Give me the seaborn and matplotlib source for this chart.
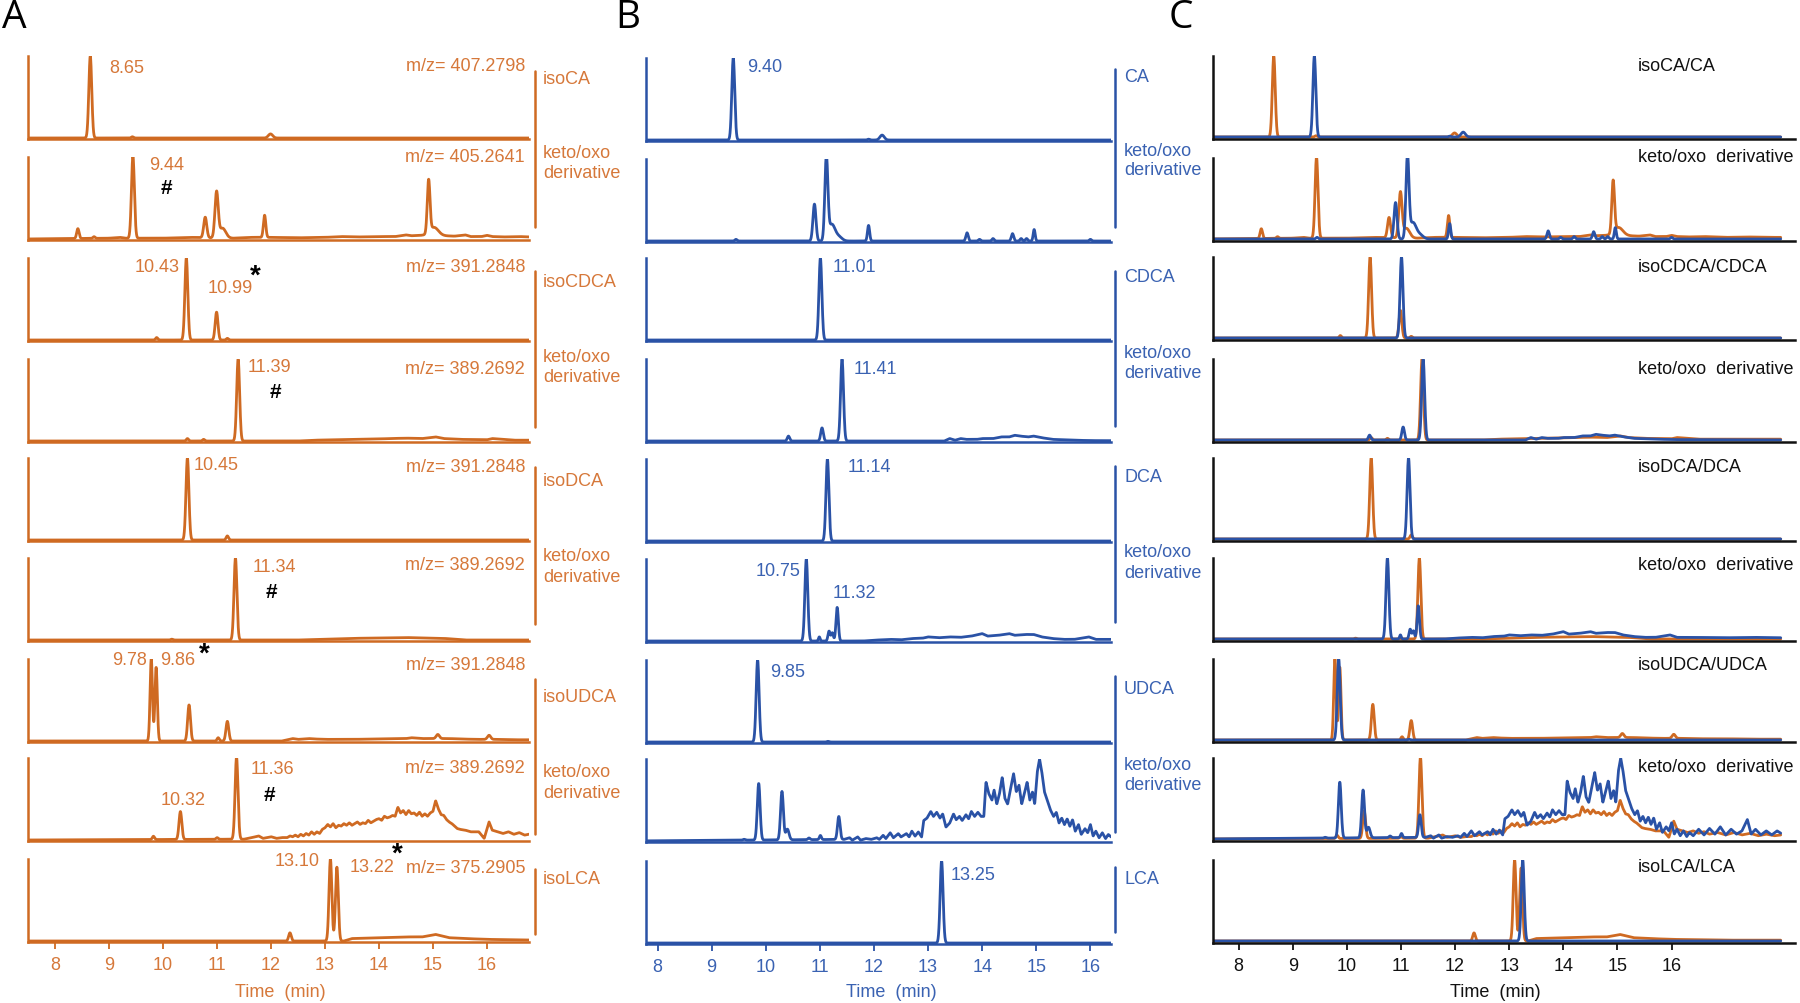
import numpy as np
import matplotlib
matplotlib.use("Agg")
import matplotlib.pyplot as plt
import seaborn as sns
from matplotlib.lines import Line2D

sns.set_theme(style="white")
plt.rcParams['font.family'] = ['Liberation Sans', 'DejaVu Sans']

# ---------------- data (retention time, relative height, peak width) ----------------
T = np.arange(7.4, 18.02, 0.004)

# orange traces (iso bile acids and their keto/oxo derivatives)
o1_peaks = [(8.65, 1.0, 0.027), (9.43, 0.015, 0.02), (11.99, 0.05, 0.04)]
o2_peaks = [(8.42, 0.12, 0.022), (8.72, 0.02, 0.02), (9.44, 1.0, 0.027), (10.78, 0.25, 0.028),
            (10.99, 0.55, 0.03), (11.10, 0.12, 0.06), (11.88, 0.27, 0.022),
            (14.92, 0.64, 0.025), (15.02, 0.10, 0.08)]
o2_bt = [7.4, 9.0, 9.2, 9.3, 10.0, 10.5, 11.3, 11.6, 12.0, 12.5, 13.0, 13.3, 13.6, 14.0, 14.3, 14.5,
         14.6, 14.8, 15.2, 15.4, 15.6, 15.7, 15.9, 16.0, 16.1, 16.3, 16.6, 17.0, 17.4, 17.8, 18.02]
o2_bv = [0, 0.01, 0.02, 0.01, 0.01, 0.02, 0.01, 0.02, 0.02, 0.015, 0.02, 0.03, 0.025, 0.03, 0.03, 0.05,
         0.04, 0.045, 0.04, 0.035, 0.05, 0.03, 0.03, 0.045, 0.03, 0.025, 0.03, 0.02, 0.025, 0.02, 0.02]
o3_peaks = [(9.88, 0.03, 0.02), (10.43, 1.0, 0.027), (10.99, 0.34, 0.026), (11.19, 0.02, 0.02)]
o4_peaks = [(10.45, 0.03, 0.02), (10.75, 0.02, 0.02), (11.39, 1.0, 0.027)]
o4_bt = [7.4, 12.5, 12.8, 13.2, 13.6, 14.0, 14.2, 14.5, 14.8, 15.05, 15.2, 15.5, 16.0, 16.1, 16.5, 17.0, 18.02]
o4_bv = [0, 0, 0.01, 0.015, 0.02, 0.025, 0.03, 0.035, 0.03, 0.05, 0.03, 0.02, 0.015, 0.03, 0.01, 0.01, 0.01]
o5_peaks = [(10.45, 1.0, 0.027), (11.19, 0.05, 0.022)]
o6_peaks = [(10.16, 0.01, 0.02), (11.34, 1.0, 0.027)]
o6_bt = [7.4, 12.5, 13.5, 14.5, 15.2, 15.6, 18.02]
o6_bv = [0, 0, 0.02, 0.03, 0.02, 0, 0]
o7_peaks = [(9.78, 1.0, 0.022), (9.87, 0.9, 0.022), (10.48, 0.44, 0.026), (11.02, 0.04, 0.02),
            (11.19, 0.24, 0.026), (15.09, 0.05, 0.03), (16.04, 0.05, 0.03)]
o7_bt = [7.4, 12.2, 12.4, 12.5, 12.7, 12.8, 13.0, 13.5, 14.0, 14.5, 14.6, 14.8, 15.3, 15.5, 15.8,
         16.2, 16.5, 17.0, 17.5, 18.02]
o7_bv = [0, 0, 0.03, 0.02, 0.03, 0.025, 0.02, 0.02, 0.025, 0.03, 0.04, 0.03, 0.03, 0.025, 0.02,
         0.02, 0.015, 0.015, 0.01, 0.01]
o8_peaks = [(9.82, 0.04, 0.02), (10.32, 0.34, 0.026), (11.0, 0.02, 0.02), (11.36, 1.0, 0.027)]
o8_bt = [7.4, 11.5, 11.65, 11.77, 11.85, 12.0, 12.1, 12.2, 12.3, 12.35, 12.4, 12.45, 12.5, 12.55,
         12.6, 12.65, 12.7, 12.75, 12.8, 12.85, 12.9, 12.95, 13.0, 13.05, 13.1, 13.15, 13.2, 13.25,
         13.3, 13.35, 13.4, 13.45, 13.5, 13.55, 13.6, 13.65, 13.7, 13.75, 13.8, 13.85, 13.9, 13.95,
         14.0, 14.05, 14.1, 14.15, 14.2, 14.25, 14.3, 14.35, 14.4, 14.45, 14.5, 14.55, 14.6, 14.65,
         14.7, 14.75, 14.8, 14.85, 14.9, 14.95, 15.0, 15.05, 15.1, 15.15, 15.2, 15.25, 15.3, 15.35,
         15.4, 15.45, 15.5, 15.6, 15.7, 15.85, 15.95, 16.04, 16.1, 16.2, 16.3, 16.4, 16.5, 16.6,
         16.7, 16.85, 17.0, 17.15, 17.3, 17.45, 17.6, 17.75, 17.9, 18.02]
o8_bv = [0, 0.01, 0.03, 0.05, 0.02, 0.04, 0.02, 0.03, 0.03, 0.05, 0.04, 0.06, 0.04, 0.07,
         0.05, 0.08, 0.06, 0.1, 0.07, 0.1, 0.08, 0.13, 0.15, 0.19, 0.16, 0.2, 0.15, 0.18,
         0.17, 0.2, 0.18, 0.21, 0.18, 0.2, 0.22, 0.19, 0.21, 0.2, 0.24, 0.21, 0.23, 0.25,
         0.26, 0.24, 0.29, 0.27, 0.28, 0.3, 0.29, 0.4, 0.33, 0.36, 0.31, 0.36, 0.32, 0.33,
         0.3, 0.34, 0.29, 0.32, 0.29, 0.33, 0.35, 0.48, 0.38, 0.31, 0.3, 0.25, 0.22, 0.2,
         0.17, 0.14, 0.13, 0.12, 0.1, 0.1, 0.02, 0.22, 0.12, 0.1, 0.08, 0.1, 0.07, 0.09,
         0.06, 0.08, 0.05, 0.08, 0.05, 0.07, 0.04, 0.06, 0.04, 0.05]
o9_peaks = [(12.35, 0.1, 0.024), (13.10, 1.0, 0.026), (13.22, 0.9, 0.026)]
o9_bt = [7.4, 13.35, 13.5, 14.0, 14.5, 14.8, 15.05, 15.3, 15.6, 16.0, 16.5, 17.0, 18.02]
o9_bv = [0, 0, 0.03, 0.04, 0.05, 0.05, 0.08, 0.04, 0.03, 0.02, 0.015, 0.01, 0.01]

# blue traces (reference bile acids and their keto/oxo derivatives)
b1_peaks = [(9.40, 1.0, 0.027), (11.9, 0.01, 0.02), (12.15, 0.06, 0.04)]
b2_peaks = [(9.45, 0.02, 0.02), (10.90, 0.45, 0.028), (11.12, 1.0, 0.028), (11.22, 0.2, 0.06),
            (11.35, 0.05, 0.06), (11.90, 0.19, 0.02), (13.72, 0.1, 0.022), (13.95, 0.02, 0.02),
            (14.2, 0.03, 0.02), (14.56, 0.09, 0.022), (14.72, 0.03, 0.02), (14.82, 0.03, 0.02),
            (14.96, 0.14, 0.018), (16.0, 0.02, 0.02)]
b3_peaks = [(11.01, 1.0, 0.027)]
b4_peaks = [(10.42, 0.06, 0.022), (11.04, 0.16, 0.024), (11.41, 1.0, 0.027)]
b4_bt = [7.4, 13.3, 13.4, 13.5, 13.6, 13.7, 13.9, 14.0, 14.2, 14.35, 14.5, 14.6, 14.7, 14.85,
         14.95, 15.1, 15.3, 15.5, 15.7, 16.0, 18.02]
b4_bv = [0, 0, 0.03, 0.01, 0.03, 0.02, 0.02, 0.03, 0.03, 0.05, 0.05, 0.07, 0.06, 0.05,
         0.06, 0.04, 0.02, 0.015, 0.01, 0.005, 0]
b5_peaks = [(11.14, 1.0, 0.027)]
b6_peaks = [(10.75, 1.0, 0.027), (10.99, 0.05, 0.015), (11.17, 0.12, 0.02), (11.23, 0.1, 0.02),
            (11.32, 0.41, 0.022)]
b6_bt = [7.4, 11.8, 12.0, 12.3, 12.5, 12.7, 12.9, 13.0, 13.2, 13.4, 13.6, 13.8, 14.0, 14.1, 14.3,
         14.5, 14.6, 14.8, 14.95, 15.1, 15.3, 15.5, 15.7, 15.97, 16.1, 16.4, 17.0, 17.5, 18.02]
b6_bv = [0, 0, 0.01, 0.02, 0.015, 0.03, 0.035, 0.05, 0.04, 0.05, 0.045, 0.06, 0.09, 0.06, 0.07,
         0.09, 0.07, 0.08, 0.08, 0.05, 0.03, 0.02, 0.02, 0.05, 0.02, 0.02, 0.015, 0.02, 0.015]
b7_peaks = [(9.85, 1.0, 0.027), (11.15, 0.008, 0.02)]
b8_peaks = [(9.6, 0.01, 0.02), (9.87, 0.69, 0.026), (10.30, 0.59, 0.026), (10.40, 0.13, 0.03),
            (10.8, 0.02, 0.02), (11.01, 0.05, 0.018), (11.35, 0.28, 0.024)]
b8_bt = [7.4, 11.45, 11.55, 11.6, 11.7, 11.75, 11.85, 11.95, 12.05, 12.1, 12.17, 12.22, 12.3, 12.36,
         12.45, 12.5, 12.6, 12.65, 12.7, 12.76, 12.82, 12.88, 12.92, 12.98, 13.05, 13.1, 13.16, 13.22,
         13.27, 13.33, 13.4, 13.47, 13.52, 13.58, 13.63, 13.7, 13.75, 13.8, 13.86, 13.92, 13.98, 14.03,
         14.07, 14.12, 14.18, 14.22, 14.27, 14.32, 14.37, 14.42, 14.47, 14.53, 14.58, 14.63, 14.68,
         14.73, 14.78, 14.83, 14.88, 14.93, 14.97, 15.02, 15.06, 15.1, 15.15, 15.2, 15.26, 15.32,
         15.37, 15.42, 15.47, 15.52, 15.57, 15.62, 15.67, 15.72, 15.78, 15.83, 15.9, 15.95, 16.0,
         16.05, 16.1, 16.16, 16.22, 16.28, 16.33, 16.4, 16.5, 16.6, 16.7, 16.8, 16.9, 17.0, 17.1,
         17.2, 17.3, 17.4, 17.47, 17.55, 17.65, 17.75, 17.85, 17.95, 18.02]
b8_bv = [0, 0.02, 0.04, 0.01, 0.05, 0.01, 0.03, 0.02, 0.04, 0.02, 0.07, 0.03, 0.1, 0.04,
         0.09, 0.05, 0.09, 0.05, 0.12, 0.06, 0.11, 0.05, 0.25, 0.28, 0.36, 0.3, 0.35, 0.28,
         0.33, 0.17, 0.22, 0.33, 0.26, 0.3, 0.25, 0.32, 0.27, 0.36, 0.3, 0.35, 0.3, 0.3,
         0.72, 0.58, 0.5, 0.62, 0.45, 0.58, 0.78, 0.52, 0.45, 0.66, 0.82, 0.6, 0.68,
         0.45, 0.58, 0.72, 0.5, 0.6, 0.45, 0.85, 1.0, 0.85, 0.6, 0.5, 0.38, 0.3,
         0.35, 0.22, 0.28, 0.2, 0.27, 0.18, 0.26, 0.12, 0.2, 0.08, 0.15, 0.1, 0.2,
         0.06, 0.12, 0.04, 0.1, 0.03, 0.08, 0.04, 0.12, 0.05, 0.13, 0.06, 0.15, 0.05, 0.12,
         0.06, 0.1, 0.24, 0.06, 0.12, 0.05, 0.1, 0.05, 0.1, 0.07]
b9_peaks = [(13.25, 1.0, 0.027)]

# labels
mz_labels = ["m/z= 407.2798", "m/z= 405.2641", "m/z= 391.2848", "m/z= 389.2692", "m/z= 391.2848",
             "m/z= 389.2692", "m/z= 391.2848", "m/z= 389.2692", "m/z= 375.2905"]
iso_names = ["isoCA", "isoCDCA", "isoDCA", "isoUDCA", "isoLCA"]
ref_names = ["CA", "CDCA", "DCA", "UDCA", "LCA"]
pair_names = ["isoCA/CA", "keto/oxo  derivative", "isoCDCA/CDCA", "keto/oxo  derivative",
              "isoDCA/DCA", "keto/oxo  derivative", "isoUDCA/UDCA", "keto/oxo  derivative", "isoLCA/LCA"]
tick_vals = [8, 9, 10, 11, 12, 13, 14, 15, 16]

# ---------------- build traces ----------------
def trace(peaks, bt=None, bv=None):
    y = np.zeros_like(T)
    for c, h, s in peaks:
        y = y + h * np.exp(-0.5 * ((T - c) / s) ** 2)
    if bt is not None:
        y = y + np.interp(T, bt, bv)
    return y

orange = [trace(o1_peaks), trace(o2_peaks, o2_bt, o2_bv), trace(o3_peaks), trace(o4_peaks, o4_bt, o4_bv),
          trace(o5_peaks), trace(o6_peaks, o6_bt, o6_bv), trace(o7_peaks, o7_bt, o7_bv),
          trace(o8_peaks, o8_bt, o8_bv), trace(o9_peaks, o9_bt, o9_bv)]
blue = [trace(b1_peaks), trace(b2_peaks), trace(b3_peaks), trace(b4_peaks, b4_bt, b4_bv),
        trace(b5_peaks), trace(b6_peaks, b6_bt, b6_bv), trace(b7_peaks), trace(b8_peaks, b8_bt, b8_bv),
        trace(b9_peaks)]

# ---------------- figure ----------------
W, H = 1800, 1004
fig = plt.figure(figsize=(18, 10.04), dpi=100)
fig.patch.set_facecolor("white")

OR = "#CF6A22"
ORT = "#D6783A"
BL = "#2A52A6"
BLT = "#3A62B2"
FS = 13

def ftext(x, y, s, color, size=FS, ha="center", weight="normal", family=None):
    kw = {}
    if family is not None:
        kw["family"] = family
    fig.text(x / W, 1 - y / H, s, color=color, fontsize=size, ha=ha, va="center",
             fontweight=weight, **kw)

def vline(x, y0, y1, color):
    fig.add_artist(Line2D([x / W, x / W], [1 - y0 / H, 1 - y1 / H], transform=fig.transFigure,
                          color=color, lw=1.8))

def make_ax(left, right, base, xlim, spine_color, last, tick_color, ybot=-0.012):
    ax = fig.add_axes([left / W, 1 - base / H, (right - left) / W, 83 / H])
    ax.set_xlim(*xlim)
    ax.set_ylim(ybot, 1.0)
    ax.set_facecolor("none")
    for s in ["top", "right"]:
        ax.spines[s].set_visible(False)
    for s in ["left", "bottom"]:
        ax.spines[s].set_color(spine_color)
        ax.spines[s].set_linewidth(1.8)
    ax.set_yticks([])
    if last:
        ax.set_xticks(tick_vals)
        ax.set_xticklabels([str(v) for v in tick_vals])
        ax.tick_params(axis="x", direction="out", length=5, width=1.3, color=spine_color,
                       labelcolor=tick_color, labelsize=FS, pad=5, bottom=True)
    else:
        ax.set_xticks([])
    ax.grid(False)
    return ax

def draw(ax, y, color):
    sns.lineplot(x=T, y=y, ax=ax, color=color, linewidth=2.0, estimator=None, errorbar=None)
    ax.set_xlabel("")
    ax.set_ylabel("")

A_base = [140, 241, 342, 443, 542, 642, 743, 842, 943]
B_base = [142, 243, 342, 443, 543, 643, 744, 843, 945]
C_base = [140, 242, 341, 443, 542, 642, 743, 842, 944]

for i in range(9):
    last = i == 8
    axA = make_ax(27.7, 529, A_base[i], (7.49, 16.78), OR, last, ORT)
    draw(axA, orange[i], OR)
    axB = make_ax(645.6, 1111, B_base[i], (7.78, 16.38), BL, last, BLT)
    draw(axB, blue[i], BL)
    axC = make_ax(1212.6, 1795, C_base[i], (7.52, 18.28), "#111111", last, "#111111", ybot=-0.025)
    draw(axC, orange[i], OR)
    draw(axC, blue[i], BL)

# m/z labels (panel A)
mz_y = [67, 158, 268, 370, 468, 566, 666, 769, 869]
for s, y in zip(mz_labels, mz_y):
    ftext(525, y, s, ORT, ha="right")

# right-hand brackets and names, panels A and B
A_br = [(72, 228), (272, 428), (468, 625), (680, 835), (870, 935)]
B_br = [(70, 228), (272, 427), (467, 623), (677, 833), (868, 933)]
A_name_y = [79, 283, 482, 697, 880]
B_name_y = [77, 278, 478, 690, 880]
A_keto_y = [(154, 174), (358, 378), (557, 577), (773, 794)]
B_keto_y = [(151, 171), (354, 374), (553, 573), (766, 786)]
for k in range(5):
    vline(534.6, A_br[k][0], A_br[k][1], OR)
    vline(1114.8, B_br[k][0], B_br[k][1], BL)
    ftext(543, A_name_y[k], iso_names[k], ORT, ha="left")
    ftext(1124, B_name_y[k], ref_names[k], BLT, ha="left")
for k in range(4):
    ftext(543, A_keto_y[k][0], "keto/oxo", ORT, ha="left")
    ftext(543, A_keto_y[k][1], "derivative", ORT, ha="left")
    ftext(1124, B_keto_y[k][0], "keto/oxo", BLT, ha="left")
    ftext(1124, B_keto_y[k][1], "derivative", BLT, ha="left")

# panel C names
C_name_y = [67, 158, 267, 370, 468, 565, 666, 768, 868]
for s, y in zip(pair_names, C_name_y):
    ftext(1638, y, s, "#111111", ha="left")

# peak labels, panel A
A_peak_labels = [("8.65", 126.5, 69), ("9.44", 167, 165), ("10.43", 157, 268), ("10.99", 230, 289),
                 ("11.39", 269, 367), ("10.45", 216, 466), ("11.34", 274.5, 568),
                 ("9.78", 130, 661), ("9.86", 178, 661), ("11.36", 272, 770), ("10.32", 183.5, 801),
                 ("13.10", 297.5, 862), ("13.22", 372, 868)]
for s, x, y in A_peak_labels:
    ftext(x, y, s, ORT)
for x, y in [(166, 188), (275.6, 393), (271.6, 593), (269, 796)]:
    ftext(x, y, "#", "black", size=15, weight="bold")
for x, y in [(255, 277), (204.4, 655), (397, 855)]:
    ftext(x, y, "*", "black", size=20, weight="bold")

# peak labels, panel B
B_peak_labels = [("9.40", 765, 68), ("11.01", 854.5, 268), ("11.41", 875, 370), ("11.14", 869.5, 468),
                 ("10.75", 778, 572), ("11.32", 854, 593), ("9.85", 788, 673), ("13.25", 973, 876)]
for s, x, y in B_peak_labels:
    ftext(x, y, s, BLT)

# axis titles
ftext(280.7, 993, "Time  (min)", ORT)
ftext(891.7, 993, "Time  (min)", BLT)
ftext(1495, 993, "Time  (min)", "#111111")

# panel letters
for s, x in [("A", 14), ("B", 627.5), ("C", 1181)]:
    ftext(x, 18, s, "black", size=28, family=["Open Sans", "DejaVu Sans"])

fig.savefig("out.png", dpi=100, facecolor="white")
